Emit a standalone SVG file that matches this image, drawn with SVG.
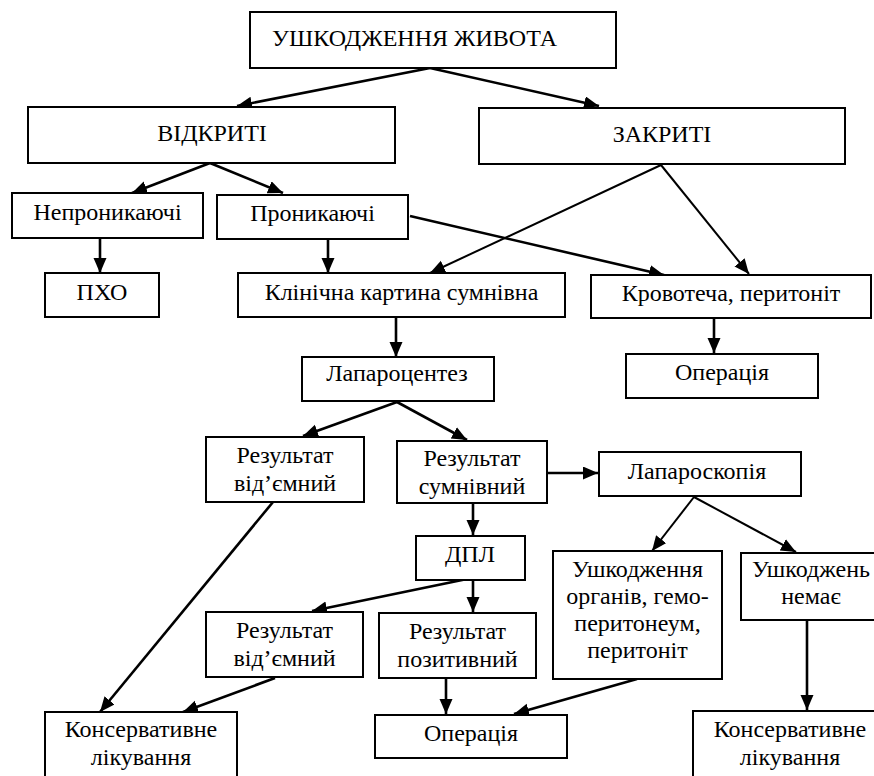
<svg xmlns="http://www.w3.org/2000/svg" width="874" height="776" viewBox="0 0 874 776">
<style>
.box{fill:#fff;stroke:#000;stroke-width:2}
text{font-size:24px;fill:#000;text-anchor:middle}
.c{stroke:#000;stroke-width:2.6;fill:none;marker-end:url(#ah)}
.thin{stroke:#000;stroke-width:2;fill:none;marker-end:url(#ah)}
</style>
<defs>
<marker id="ah" markerUnits="userSpaceOnUse" markerWidth="16" markerHeight="14" refX="15" refY="6.5" orient="auto">
<path d="M0,0 L15,6.5 L0,13 z" fill="#000"/>
</marker>
</defs>
<rect width="874" height="776" fill="#fff"/>
<g id="connectors">
<line class="c" x1="430" y1="68" x2="237" y2="106"/>
<line class="c" x1="430" y1="68" x2="599" y2="106"/>
<line class="c" x1="210" y1="163" x2="132" y2="193"/>
<line class="c" x1="210" y1="163" x2="283" y2="193"/>
<line class="c" x1="100" y1="238" x2="100" y2="273"/>
<line class="c" x1="328" y1="239" x2="328" y2="273"/>
<line class="c" x1="410" y1="216" x2="664" y2="275"/>
<line class="thin" x1="661" y1="165" x2="430" y2="273"/>
<line class="thin" x1="661" y1="165" x2="749" y2="274"/>
<line class="c" x1="714" y1="318" x2="714" y2="353"/>
<line class="c" x1="396" y1="317" x2="396" y2="357"/>
<line class="c" x1="397" y1="402" x2="303" y2="436"/>
<line class="c" x1="397" y1="402" x2="467" y2="440"/>
<line class="c" x1="547" y1="473" x2="598" y2="473"/>
<line class="thin" x1="694" y1="497" x2="652" y2="551"/>
<line class="thin" x1="694" y1="497" x2="796" y2="552"/>
<line class="c" x1="473" y1="503" x2="473" y2="535"/>
<line class="c" x1="273" y1="502" x2="100" y2="712"/>
<line class="c" x1="467" y1="579" x2="312" y2="611"/>
<line class="c" x1="473" y1="580" x2="473" y2="612"/>
<line class="c" x1="275" y1="678" x2="183" y2="712"/>
<line class="c" x1="446" y1="678" x2="446" y2="714"/>
<line class="c" x1="637" y1="679" x2="514" y2="714"/>
<line class="c" x1="807" y1="620" x2="807" y2="710"/>
</g>
<g id="n-root"><rect class="box" x="250" y="12" width="366" height="56"/><text font-family="Liberation Serif" x="414.5" y="46">УШКОДЖЕННЯ ЖИВОТА</text></g>
<g id="n-open"><rect class="box" x="28" y="107" width="367" height="56"/><text font-family="Liberation Serif" x="212" y="141">ВІДКРИТІ</text></g>
<g id="n-closed"><rect class="box" x="479" y="108" width="366" height="56"/><text font-family="Liberation Serif" x="662" y="142">ЗАКРИТІ</text></g>
<g id="n-nonpen"><rect class="box" x="12" y="193" width="191" height="45"/><text font-family="Liberation Serif" x="107.5" y="220">Непроникаючі</text></g>
<g id="n-pen"><rect class="box" x="217" y="195" width="191" height="44"/><text font-family="Liberation Serif" x="312.5" y="221">Проникаючі</text></g>
<g id="n-pho"><rect class="box" x="45" y="273" width="114" height="44"/><text font-family="Liberation Serif" x="102" y="300">ПХО</text></g>
<g id="n-clin"><rect class="box" x="238" y="273" width="327" height="44"/><text font-family="Liberation Serif" x="401.5" y="300">Клінічна картина сумнівна</text></g>
<g id="n-bleed"><rect class="box" x="591" y="275" width="280" height="43"/><text font-family="Liberation Serif" x="731" y="301">Кровотеча, перитоніт</text></g>
<g id="n-op1"><rect class="box" x="626" y="354" width="192" height="44"/><text font-family="Liberation Serif" x="722" y="380">Операція</text></g>
<g id="n-lapc"><rect class="box" x="302" y="357" width="192" height="44"/><text font-family="Liberation Serif" x="397" y="381">Лапароцентез</text></g>
<g id="n-resneg1"><rect class="box" x="206" y="437" width="158" height="65"/><text font-family="Liberation Serif" x="285" y="463">Результат</text><text font-family="Liberation Serif" x="285" y="491">від’ємний</text></g>
<g id="n-resdoubt"><rect class="box" x="397" y="441" width="150" height="62"/><text font-family="Liberation Serif" x="472" y="466">Результат</text><text font-family="Liberation Serif" x="472" y="494">сумнівний</text></g>
<g id="n-lapsc"><rect class="box" x="599" y="452" width="202" height="44"/><text font-family="Liberation Serif" x="697" y="479">Лапароскопія</text></g>
<g id="n-dpl"><rect class="box" x="416" y="536" width="109" height="44"/><text font-family="Liberation Serif" x="470" y="562">ДПЛ</text></g>
<g id="n-inj"><rect class="box" x="553" y="551" width="169" height="128"/><text font-family="Liberation Serif" x="637.5" y="577">Ушкодження</text><text font-family="Liberation Serif" x="637.5" y="604">органів, гемо-</text><text font-family="Liberation Serif" x="637.5" y="631">перитонеум,</text><text font-family="Liberation Serif" x="637.5" y="658">перитоніт</text></g>
<g id="n-noinj"><rect class="box" x="741" y="553" width="140" height="67"/><text font-family="Liberation Serif" x="811" y="577">Ушкоджень</text><text font-family="Liberation Serif" x="811" y="604">немає</text></g>
<g id="n-resneg2"><rect class="box" x="206" y="612" width="157" height="65"/><text font-family="Liberation Serif" x="284.5" y="638">Результат</text><text font-family="Liberation Serif" x="284.5" y="666">від’ємний</text></g>
<g id="n-respos"><rect class="box" x="379" y="613" width="157" height="65"/><text font-family="Liberation Serif" x="457.5" y="639">Результат</text><text font-family="Liberation Serif" x="457.5" y="667">позитивний</text></g>
<g id="n-cons1"><rect class="box" x="45" y="712" width="192" height="80"/><text font-family="Liberation Serif" x="141" y="737">Консервативне</text><text font-family="Liberation Serif" x="141" y="765">лікування</text></g>
<g id="n-op2"><rect class="box" x="375" y="715" width="192" height="43"/><text font-family="Liberation Serif" x="471" y="741">Операція</text></g>
<g id="n-cons2"><rect class="box" x="693" y="711" width="194" height="80"/><text font-family="Liberation Serif" x="790" y="737">Консервативне</text><text font-family="Liberation Serif" x="790" y="765">лікування</text></g>
</svg>
